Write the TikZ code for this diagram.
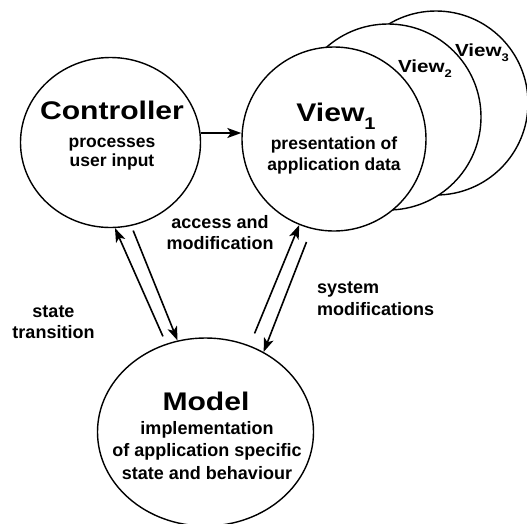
\documentclass[tikz,border=0pt]{standalone}
\usepackage{fontspec}
\setmainfont{Liberation Sans}
\newfontfamily\titlef{Liberation Sans}[FakeStretch=1.18]
\usetikzlibrary{shapes.geometric,arrows.meta}
\begin{document}
\begin{tikzpicture}[x=1pt,y=-1pt]
\tikzset{
  bub/.style={ellipse, draw, line width=1.4pt, fill=white, inner sep=0pt},
  arr/.style={line width=1.6pt, -{Stealth[length=14pt,width=10pt,inset=3.5pt]}},
  ttl/.style={anchor=base, inner sep=0pt, font=\titlef\bfseries\fontsize{25.5}{25.5}\selectfont},
  vsm/.style={anchor=base, inner sep=0pt, font=\titlef\bfseries\fontsize{17.5}{17.5}\selectfont},
  sml/.style={anchor=base, inner sep=0pt, font=\bfseries\fontsize{17.5}{17.5}\selectfont},
  lbl/.style={anchor=base, inner sep=0pt, font=\bfseries\fontsize{18}{18}\selectfont},
}
\fill[white] (0,0) rectangle (527,523);
\useasboundingbox (0,0) rectangle (527,523);
\begin{scope}
\clip (0,0) rectangle (527,523);
% circles
\node[bub, minimum width=184pt, minimum height=184pt] (v3) at (436,103) {};
\node[bub, minimum width=186pt, minimum height=186pt] (v2) at (388,117) {};
\node[bub, minimum width=184pt, minimum height=184pt] (v1) at (334,139) {};
\node[bub, minimum width=180pt, minimum height=170pt] (ctrl) at (110.5,142.5) {};
\node[bub, minimum width=216pt, minimum height=188pt] (model) at (205.5,432) {};
\end{scope}
% texts in circles
\node[ttl] (ctitle) at (112,119) {Controller};
\node[sml] (cl1) at (112,147) {processes};
\node[sml] (cl2) at (112,166) {user input};
\node[ttl] (vtitle) at (336,121) {View\raisebox{-8pt}{\fontsize{17}{17}\selectfont 1}};
\node[sml] (vl1) at (334,149) {presentation of};
\node[sml] (vl2) at (334,170) {application data};
\node[vsm] (v2t) at (425,72) {View\raisebox{-5pt}{\fontsize{11}{11}\selectfont 2}};
\node[vsm] (v3t) at (482,56) {View\raisebox{-5pt}{\fontsize{11}{11}\selectfont 3}};
\node[ttl] (mtitle) at (206,410) {Model};
\node[lbl] (ml1) at (207,434) {implementation};
\node[lbl] (ml2) at (207,456) {of application specific};
\node[lbl] (ml3) at (207,479) {state and behaviour};
% labels
\node[lbl] (acc1) at (220,228) {access and};
\node[lbl] (acc2) at (220,249) {modification};
\node[lbl] (st1) at (53.5,317) {state};
\node[lbl] (st2) at (53.5,338) {transition};
\node[lbl, anchor=base west] (sy1) at (317,293) {system};
\node[lbl, anchor=base west] (sy2) at (317,315) {modifications};
% arrows
\draw[arr] ([yshift=9.5pt]ctrl.east) -- ([yshift=6pt]v1.west);
\draw[arr, shorten <=8pt] (model.114) -- (ctrl.-87);
\draw[arr, shorten <=5pt] (ctrl.-76) -- (model.107);
\draw[arr, shorten <=13pt] (model.63) -- (v1.-112);
\draw[arr, shorten <=14pt] (v1.-104) -- (model.54);
\end{tikzpicture}
\end{document}
